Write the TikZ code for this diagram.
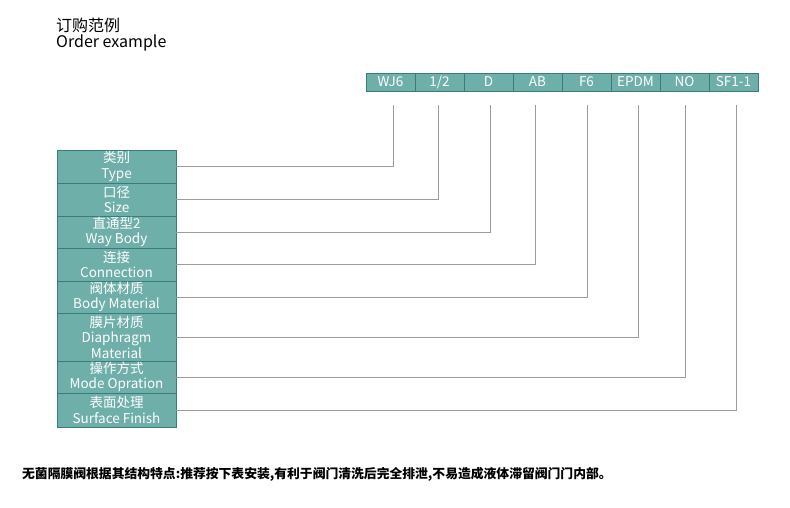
\documentclass[tikz,border=0pt]{standalone}
\usepackage{fontspec}
\setmainfont{Noto Sans CJK SC}
\definecolor{cellfill}{HTML}{6FAFAA}
\definecolor{celledge}{HTML}{3A7C77}
\definecolor{leadgray}{HTML}{9C9C9C}

\begin{document}
\begin{tikzpicture}[x=1pt,y=1pt]
  \tikzstyle{every node}+=[inner sep=0pt]
  \tikzstyle{code}=[draw=celledge,fill=cellfill,text=white,minimum width=49,minimum height=18,font=\fontsize{13.5}{15}\selectfont]
  \tikzstyle{field}=[draw=celledge,fill=cellfill,text=white,minimum width=119,align=center,font=\fontsize{13.5}{15.5}\selectfont]
  \tikzstyle{lead}=[draw=leadgray,line width=0.8pt]
  \useasboundingbox (0,0) rectangle (790,-507);
  \node [anchor=west,font=\fontsize{16}{18}\selectfont] (titlecn) at (56,-25) {订购范例};
  \node [anchor=west,font=\fontsize{16}{18}\selectfont] (titleen) at (56,-43) {Order example};
  \node [code] (wj6) at (390.5,-82) {WJ6};
  \node [code] (half) at (439.5,-82) {1/2};
  \node [code] (dd) at (488.5,-82) {D};
  \node [code] (ab) at (537.5,-82) {AB};
  \node [code] (f6) at (586.5,-82) {F6};
  \node [code] (epdm) at (635.5,-82) {EPDM};
  \node [code] (no) at (684.5,-82) {NO};
  \node [code] (sf) at (733.5,-82) {SF1-1};
  \node [field,minimum height=33] (type) at (116.5,-166.5) {类别\\Type};
  \node [field,minimum height=33] (size) at (116.5,-199.5) {口径\\Size};
  \node [field,minimum height=32] (way) at (116.5,-232) {直通型2\\Way Body};
  \node [field,minimum height=33] (conn) at (116.5,-264.5) {连接\\Connection};
  \node [field,minimum height=32] (body) at (116.5,-297) {阀体材质\\Body Material};
  \node [field,minimum height=48] (diap) at (116.5,-337) {膜片材质\\Diaphragm\\Material};
  \node [field,minimum height=32] (mode) at (116.5,-377) {操作方式\\Mode Opration};
  \node [field,minimum height=34] (surf) at (116.5,-410) {表面处理\\Surface Finish};
  \coordinate (wj6end) at (393,-105);
  \coordinate (halfend) at (438,-105);
  \coordinate (ddend) at (490,-105);
  \coordinate (abend) at (535,-105);
  \coordinate (f6end) at (587,-105);
  \coordinate (epdmend) at (638,-105);
  \coordinate (noend) at (685,-105);
  \coordinate (sfend) at (736,-105);
  \draw [lead] (type.east) -| (wj6end);
  \draw [lead] (size.east) -| (halfend);
  \draw [lead] (way.east) -| (ddend);
  \draw [lead] (conn.east) -| (abend);
  \draw [lead] (body.east) -| (f6end);
  \draw [lead] (diap.east) -| (epdmend);
  \draw [lead] (mode.east) -| (noend);
  \draw [lead] (surf.east) -| (sfend);
  \node [anchor=west,font=\bfseries\fontsize{12.8}{14}\selectfont] (note) at (22,-474) {无菌隔膜阀根据其结构特点:推荐按下表安装,有利于阀门清洗后完全排泄,不易造成液体滞留阀门门内部。};
\end{tikzpicture}
\end{document}
